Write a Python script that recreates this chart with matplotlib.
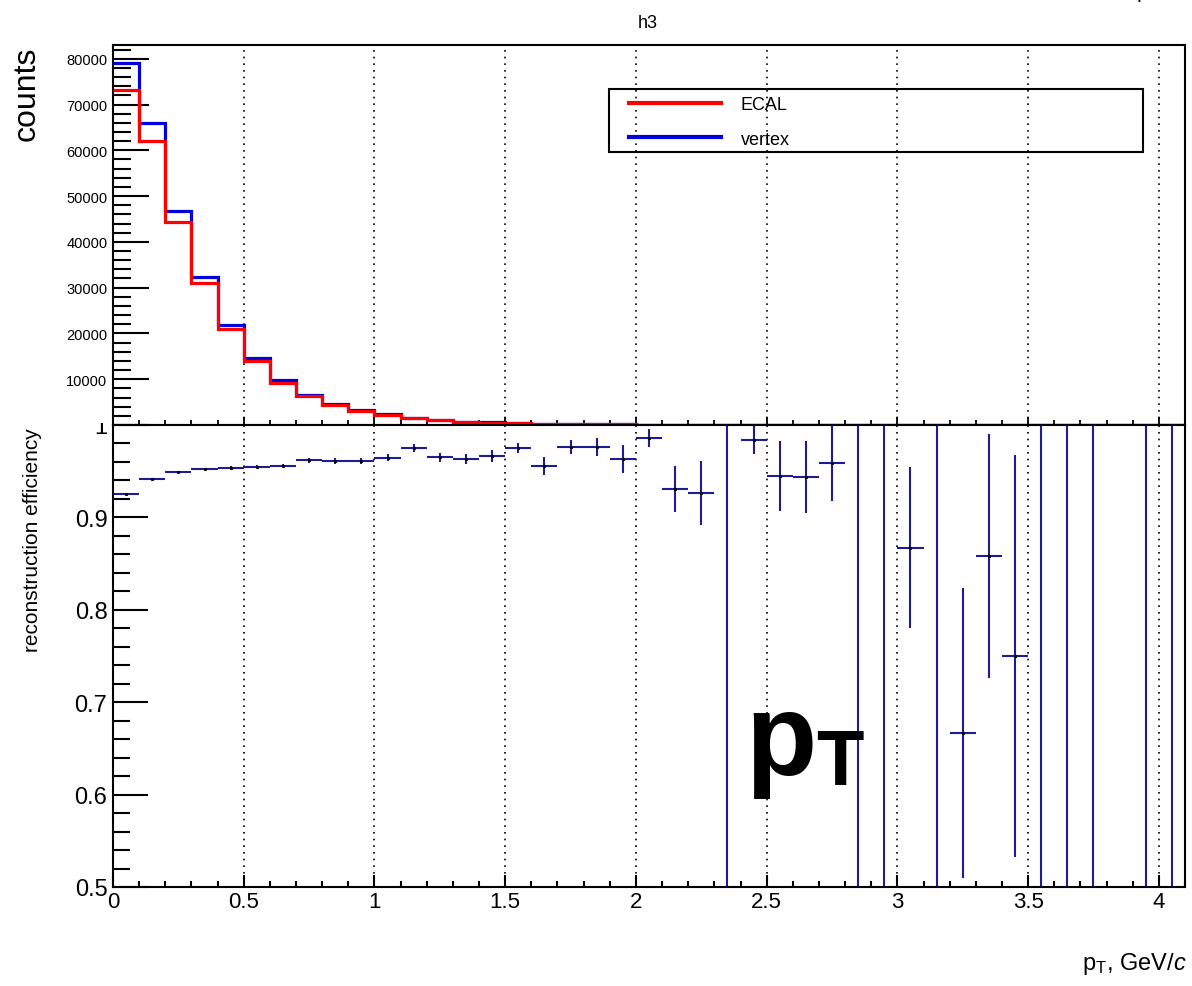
import matplotlib
matplotlib.use("Agg")
import matplotlib.pyplot as plt
import numpy as np
from matplotlib.patches import Rectangle
from matplotlib.ticker import MultipleLocator, FuncFormatter
from matplotlib.transforms import Bbox, TransformedBbox

plt.rcParams['font.family'] = ['Liberation Sans', 'DejaVu Sans']
plt.rcParams['mathtext.fontset'] = 'custom'
plt.rcParams['mathtext.rm'] = 'Liberation Sans'
plt.rcParams['mathtext.it'] = 'Liberation Sans:italic'
plt.rcParams['mathtext.bf'] = 'Liberation Sans:bold'

# pT bins, 0.1 GeV/c wide
bin_edges = np.round(np.arange(0, 4.15, 0.1), 2)

# counts per bin (top pad)
vertex_counts = [79000, 65900, 46700, 32400, 21900, 14550, 9800, 6600, 4600, 3300,
                 2300, 1550, 1050, 760, 560, 420, 310, 230, 170, 130,
                 95, 70, 50, 1, 40, 30, 28, 25, 1, 1,
                 15, 1, 6, 7, 4, 1, 1, 1, 0, 1, 1]
ecal_counts = [73100, 62000, 44400, 31000, 20900, 13960, 9200, 6300, 4400, 3150,
               2200, 1500, 1010, 730, 540, 410, 300, 225, 165, 125,
               93, 65, 46, 2, 39, 28, 26, 24, 2, 2,
               13, 2, 4, 6, 3, 2, 2, 2, 0, 2, 2]

# reconstruction efficiency per bin (bottom pad), nan = empty bin
efficiency = [0.9258, 0.9417, 0.9493, 0.9521, 0.9540, 0.9547, 0.9561, 0.9619, 0.9608, 0.9608,
              0.9645, 0.9753, 0.9652, 0.9633, 0.9662, 0.9756, 0.9561, 0.9767, 0.9760, 0.9630,
              0.9860, 0.9305, 0.9265, 2.0, 0.9843, 0.9450, 0.9435, 0.9590, 2.0, 2.0,
              0.8673, 2.0, 0.6668, 0.8579, 0.7500, 2.0, 2.0, 2.0, np.nan, 2.0, 2.0]
efficiency_err = [0.0008, 0.0009, 0.0010, 0.0012, 0.0015, 0.0017, 0.0020, 0.0025, 0.0030, 0.0033,
                  0.0040, 0.0045, 0.0050, 0.0055, 0.0065, 0.0054, 0.0098, 0.0076, 0.0098, 0.0152,
                  0.0097, 0.0250, 0.0350, 1.8, 0.0157, 0.0380, 0.0390, 0.0410, 1.8, 1.8,
                  0.0875, 1.8, 0.1570, 0.1320, 0.2170, 1.8, 1.8, 1.8, np.nan, 1.8, 1.8]

W, H = 1192, 987
x_left, x_right = 113, 1185
top_y0, top_y1 = 46, 426
bot_y0, bot_y1 = 426, 888

fig = plt.figure(figsize=(W / 100, H / 100), dpi=100)
fig.patch.set_facecolor('white')

ax_top = fig.add_axes([x_left / W, 1 - top_y1 / H, (x_right - x_left) / W, (top_y1 - top_y0) / H])
ax_bot = fig.add_axes([x_left / W, 1 - bot_y1 / H, (x_right - x_left) / W, (bot_y1 - bot_y0) / H])

#Top pad: histograms
ax_top.stairs(vertex_counts, bin_edges, baseline=None, color='#0000dd', lw=2.3,
              label='vertex', clip_on=False, zorder=3)
ax_top.stairs(ecal_counts, bin_edges, baseline=None, color='#ff0000', lw=2.3,
              label='ECAL', clip_on=False, zorder=4)
ax_top.set_xlim(0, 4.1)
ax_top.set_ylim(0, 83000)
ax_top.yaxis.set_major_locator(MultipleLocator(10000))
ax_top.yaxis.set_minor_locator(MultipleLocator(2000))
ax_top.yaxis.set_major_formatter(FuncFormatter(lambda v, p: '' if v == 0 else '%d' % v))
ax_top.xaxis.set_major_locator(MultipleLocator(0.5))
ax_top.xaxis.set_minor_locator(MultipleLocator(0.1))
ax_top.tick_params(axis='y', which='major', direction='in', length=26, width=1.5, labelsize=10.5, pad=4)
ax_top.tick_params(axis='y', which='minor', direction='in', length=13, width=1.5)
ax_top.tick_params(axis='x', which='major', direction='in', length=6, width=1.3, labelbottom=False)
ax_top.tick_params(axis='x', which='minor', direction='in', length=3.5, width=1.3)
ax_top.grid(axis='x', which='major', color='black', lw=1.2, linestyle=(0, (1, 3)))

# legend entries, box drawn separately so the padding matches
handles, labels = ax_top.get_legend_handles_labels()
leg = ax_top.legend(handles[::-1], labels[::-1], loc='upper left',
                    bbox_to_anchor=(629 / W, 1 - 97 / H),
                    bbox_transform=fig.transFigure, borderaxespad=0, borderpad=0,
                    fontsize=13, handlelength=5.1, handletextpad=1.1, labelspacing=0.97,
                    frameon=False)
for line in leg.get_lines():
  line.set_linewidth(3)
fig.add_artist(Rectangle((609 / W, 1 - 153 / H), (1143 - 609) / W, (153 - 90) / H,
                         transform=fig.transFigure, fill=False, edgecolor='black', lw=1.5))

#Bottom pad: efficiency
centers = (bin_edges[:-1] + bin_edges[1:]) / 2
ax_bot.errorbar(centers, efficiency, xerr=0.05, yerr=efficiency_err, fmt='none',
                ecolor='#1c1c99', elinewidth=1.5, capsize=0)
ax_bot.plot(centers, efficiency, ls='none', marker='s', ms=1.2, color='black')
ax_bot.set_xlim(0, 4.1)
ax_bot.set_ylim(0.5, 1.0)
ax_bot.yaxis.set_major_locator(MultipleLocator(0.1))
ax_bot.yaxis.set_minor_locator(MultipleLocator(0.02))
ax_bot.yaxis.set_major_formatter(FuncFormatter(lambda v, p: '%g' % round(v, 2)))
ax_bot.xaxis.set_major_locator(MultipleLocator(0.5))
ax_bot.xaxis.set_minor_locator(MultipleLocator(0.1))
ax_bot.xaxis.set_major_formatter(FuncFormatter(lambda v, p: '%g' % round(v, 2)))
ax_bot.tick_params(axis='y', which='major', direction='in', length=25, width=1.5, labelsize=17, pad=4)
ax_bot.tick_params(axis='y', which='minor', direction='in', length=12, width=1.5)
ax_bot.tick_params(axis='x', which='major', direction='in', length=9, width=1.5, labelsize=16, pad=3)
ax_bot.tick_params(axis='x', which='minor', direction='in', length=4.5, width=1.5)
ax_bot.grid(axis='x', which='major', color='black', lw=1.2, linestyle=(0, (1, 3)))

for ax in (ax_top, ax_bot):
  for sp in ax.spines.values():
    sp.set_linewidth(1.5)

#Text
fig.text(648 / W, 1 - 24 / H, 'h3', ha='center', va='center', fontsize=13)
fig.text(27 / W, 1 - 47 / H, 'counts', rotation=90, ha='center', va='top', fontsize=23)
fig.text(33 / W, 1 - 428 / H, 'reconstruction efficiency', rotation=90, ha='center', va='top', fontsize=15)
fig.text(1187 / W, 1 - 970 / H, r'p$_{\mathregular{T}}$, GeV/$\mathit{c}$', ha='right', va='baseline', fontsize=17)
# upper pad's axis title, mostly outside the canvas
fig.text(1136 / W, 1 + 3 / H, r'p$_{\mathregular{T}}$, GeV/$\mathit{c}$', ha='left', va='baseline', fontsize=16)
fig.text(745 / W, 1 - 775 / H, 'p', ha='left', va='baseline', fontsize=84, fontweight='bold')
fig.text(816 / W, 1 - 785 / H, 'T', ha='left', va='baseline', fontsize=56, fontweight='bold')

# top of the "1" label is hidden by the upper pad
fig.canvas.draw()
clip = TransformedBbox(Bbox([[0, 0], [1, 1 - 424 / H]]), fig.transFigure)
for lab in ax_bot.get_yticklabels():
  if lab.get_text() == '1':
    lab.set_clip_box(clip)
    lab.set_clip_on(True)

fig.savefig('out.png', dpi=100)
